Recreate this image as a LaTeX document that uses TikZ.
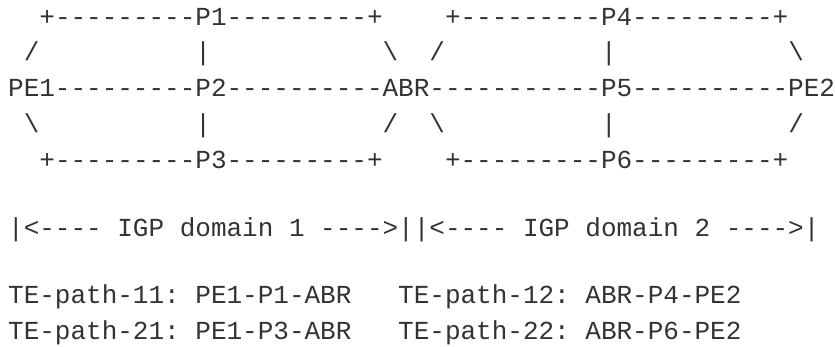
\documentclass[tikz,border=0pt]{standalone}
\usepackage{fontspec}
\setmonofont{Liberation Mono}
\usepackage{tikz}
\usetikzlibrary{positioning}
\definecolor{AsciiInk}{HTML}{333333}

\begin{document}
\begin{tikzpicture}[
    asciirow/.style={anchor=base west, inner sep=0pt, text=AsciiInk,
                     font=\ttfamily\fontsize{26pt}{30pt}\selectfont}
]
  \useasboundingbox (0,0) rectangle (835pt,-347pt);

  % the two IGP domains, one text row per line
  \node[asciirow] (ringtop) at (8pt,-25.2pt)
    {~~+---------P1---------+~~~~+---------P4---------+};
  \node[asciirow] (slashtop) at (8pt,-61pt)
    {~/~~~~~~~~~~|~~~~~~~~~~~\textbackslash~~/~~~~~~~~~~|~~~~~~~~~~~\textbackslash};
  \node[asciirow] (ringmid) at (8pt,-96.8pt)
    {PE1---------P2----------ABR-----------P5----------PE2};
  \node[asciirow] (slashbot) at (8pt,-132.7pt)
    {~\textbackslash~~~~~~~~~~|~~~~~~~~~~~/~~\textbackslash~~~~~~~~~~|~~~~~~~~~~~/};
  \node[asciirow] (ringbot) at (8pt,-168.6pt)
    {~~+---------P3---------+~~~~+---------P6---------+};

  % domain extent
  \node[asciirow] (domains) at (8pt,-237pt)
    {|<----~IGP~domain~1~---->||<----~IGP~domain~2~---->|};

  % TE paths
  \node[asciirow] (pathsone) at (8pt,-304pt)
    {TE-path-11:~PE1-P1-ABR~~~TE-path-12:~ABR-P4-PE2};
  \node[asciirow] (pathstwo) at (8pt,-339.5pt)
    {TE-path-21:~PE1-P3-ABR~~~TE-path-22:~ABR-P6-PE2};
\end{tikzpicture}
\end{document}
